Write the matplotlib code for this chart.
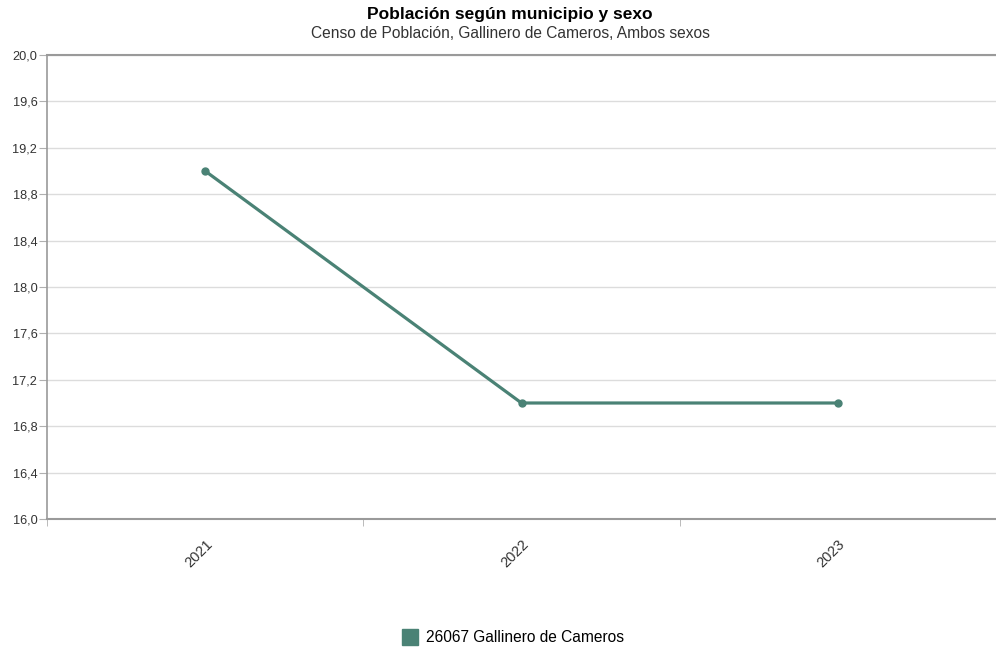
import matplotlib.pyplot as plt
import matplotlib.ticker as mticker
import numpy as np

plt.rcParams['font.family'] = ['Liberation Sans', 'DejaVu Sans']

years = ['2021', '2022', '2023']
poblacion = [19, 17, 17]
serie = '26067 Gallinero de Cameros'
titulo = 'Población según municipio y sexo'
subtitulo = 'Censo de Población, Gallinero de Cameros, Ambos sexos'

color = '#4a8275'

fig = plt.figure(figsize=(9.96, 6.49), dpi=100)
ax = fig.add_axes([47 / 996, 1 - 519 / 649, 1 - 47 / 996, (519 - 55) / 649])

x = np.arange(len(years))
ax.plot(x, poblacion, color=color, lw=2.3, marker='o', ms=5, zorder=3,
        clip_on=False)

ax.set_xlim(-0.495, 2.478)
ax.set_ylim(16, 20)
ax.yaxis.set_major_locator(mticker.MultipleLocator(0.4))
ax.yaxis.set_major_formatter(mticker.FuncFormatter(lambda v, p: f'{v:.1f}'.replace('.', ',')))
ax.grid(axis='y', color='#dcdcdc', lw=1)
ax.set_axisbelow(True)

ax.set_xticks(x)
ax.set_xticklabels(years, rotation=45, ha='right', rotation_mode='anchor')
ax.set_xticks([-0.5, 0.5, 1.5, 2.5], minor=True)
ax.tick_params(axis='x', which='major', length=0, pad=13, labelsize=10.5, colors='#333333')
ax.tick_params(axis='x', which='minor', length=5, color='#b0b0b0')
ax.tick_params(axis='y', length=6, color='#b0b0b0', labelsize=9.2, labelcolor='#333333', pad=1)

for s in ['left', 'bottom', 'top']:
    ax.spines[s].set_color('#9a9a9a')
    ax.spines[s].set_linewidth(1.5)
ax.spines['right'].set_visible(False)
ax.spines['left'].set_linewidth(1.2)

fig.text(0.512, 1 - 15 / 649, titulo, ha='center', va='center', fontsize=12.5, fontweight='bold')
fig.text(0.512, 1 - 34 / 649, subtitulo, ha='center', va='center', fontsize=11.2, color='#333333')

fig.legend([plt.Rectangle((0, 0), 1, 1, color=color)], [serie], loc='center',
           bbox_to_anchor=(0.515, 1 - 637 / 649), frameon=False, fontsize=11.2,
           handlelength=1.0, handleheight=1.2, handletextpad=0.5)

fig.savefig('out.png', dpi=100)
